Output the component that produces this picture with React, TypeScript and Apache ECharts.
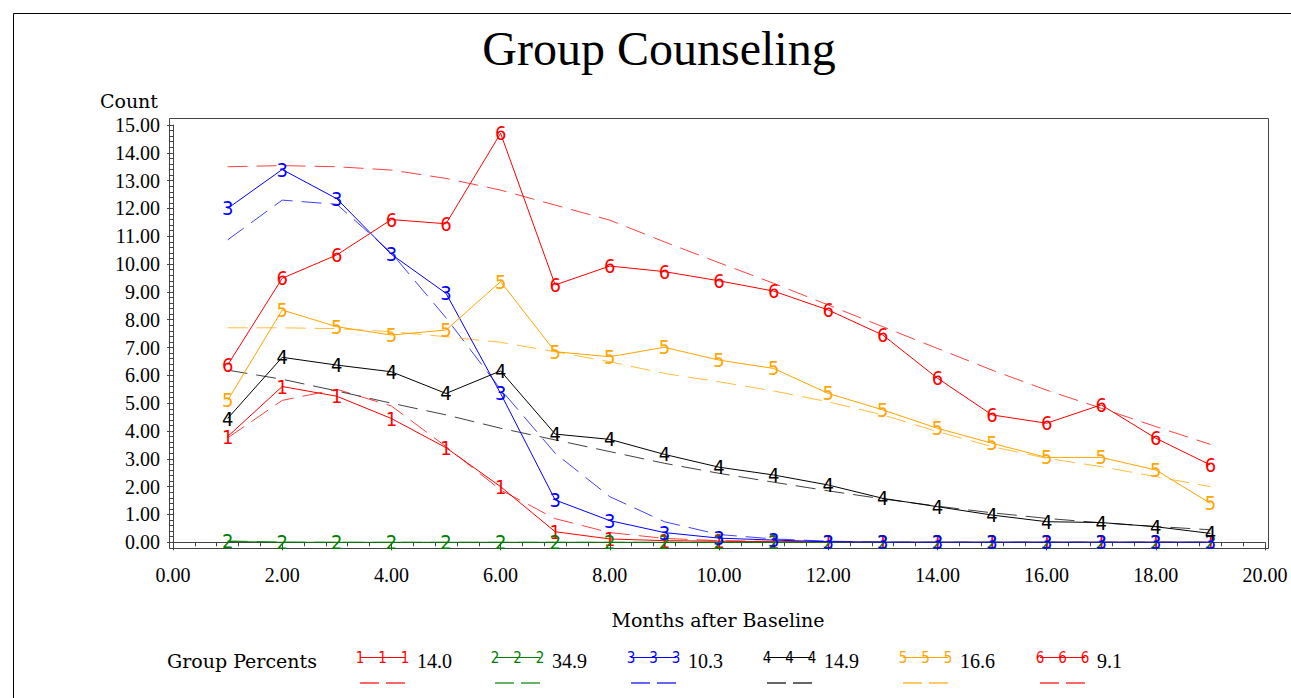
import React, { useEffect, useRef } from "react";
import * as echarts from "echarts";

const months = [1, 2, 3, 4, 5, 6, 7, 8, 9, 10, 11, 12, 13, 14, 15, 16, 17, 18, 19];
const groupSymbols = ["1", "2", "3", "4", "5", "6"];
const groupPercents = ["14.0", "34.9", "10.3", "14.9", "16.6", "9.1"];
const groupColors = ["#ff0000", "#008000", "#0000ff", "#000000", "#ffa500", "#ff0000"];
const xTickLabels = ["0.00", "2.00", "4.00", "6.00", "8.00", "10.00", "12.00", "14.00", "16.00", "18.00", "20.00"];

// observed counts
const obs1 = [3.8, 5.6, 5.25, 4.45, 3.4, 2.0, 0.38, 0.12, 0.06, 0.04, 0.02, 0.01, 0, 0, 0, 0, 0, 0, 0];
const obs2 = [0.03, 0, 0, 0, 0, 0, 0, 0, 0, 0, 0, 0, 0, 0, 0, 0, 0, 0, 0];
const obs3 = [12.0, 13.4, 12.35, 10.35, 8.95, 5.35, 1.52, 0.78, 0.35, 0.15, 0.08, 0.02, 0, 0, 0, 0, 0, 0, 0];
const obs4 = [4.45, 6.65, 6.37, 6.13, 5.35, 6.16, 3.89, 3.7, 3.16, 2.7, 2.42, 2.06, 1.58, 1.28, 0.98, 0.74, 0.71, 0.56, 0.32];
const obs5 = [5.1, 8.35, 7.75, 7.45, 7.63, 9.37, 6.85, 6.67, 7.01, 6.55, 6.25, 5.35, 4.76, 4.1, 3.56, 3.05, 3.05, 2.6, 1.4];
const obs6 = [6.37, 9.49, 10.33, 11.6, 11.45, 14.7, 9.25, 9.93, 9.73, 9.4, 9.03, 8.35, 7.45, 5.9, 4.58, 4.28, 4.94, 3.74, 2.78];

// fitted trajectories
const fit1 = [3.75, 5.1, 5.5, 4.9, 3.44, 1.88, 0.85, 0.35, 0.14, 0.06, 0.03, 0.01, 0, 0, 0, 0, 0, 0, 0];
const fit2 = [0.05, 0.01, 0, 0, 0, 0, 0, 0, 0, 0, 0, 0, 0, 0, 0, 0, 0, 0, 0];
const fit3 = [10.87, 12.3, 12.15, 10.4, 8.07, 5.5, 3.2, 1.64, 0.74, 0.28, 0.12, 0.04, 0.01, 0, 0, 0, 0, 0, 0];
const fit4 = [6.19, 5.86, 5.44, 5.0, 4.58, 4.1, 3.68, 3.26, 2.84, 2.48, 2.16, 1.85, 1.56, 1.3, 1.06, 0.86, 0.7, 0.57, 0.45];
const fit5 = [7.71, 7.71, 7.68, 7.57, 7.39, 7.19, 6.85, 6.49, 6.07, 5.77, 5.44, 5.05, 4.58, 3.98, 3.44, 3.02, 2.72, 2.36, 2.0];
const fit6 = [13.5, 13.54, 13.5, 13.38, 13.08, 12.66, 12.12, 11.58, 10.8, 10.05, 9.31, 8.53, 7.75, 6.97, 6.19, 5.47, 4.82, 4.16, 3.52];

const observed = [obs1, obs2, obs3, obs4, obs5, obs6];
const fitted = [fit1, fit2, fit3, fit4, fit5, fit6];

const SERIF = "'Liberation Serif', 'Times New Roman', serif";
const WORD_SERIF = "'DejaVu Serif', 'Liberation Serif', serif";
const DIGIT_FONT = "'DejaVu Sans Condensed', 'Liberation Sans Narrow', 'Liberation Sans', sans-serif";

function textEl(text: string, x: number, y: number, font: string, align = "left", fill = "#000") {
  return {
    type: "text",
    x,
    y,
    silent: true,
    style: {
      text,
      font,
      fill,
      align,
      textAlign: align,
      verticalAlign: "middle",
      textVerticalAlign: "middle",
    },
  };
}

export default function App() {
  const ref = useRef<HTMLDivElement>(null);

  useEffect(() => {
    document.body.style.margin = "0";
    const chart = echarts.init(ref.current!, null, { renderer: "svg" });

    const series: any[] = [];
    observed.forEach((vals, i) => {
      series.push({
        type: "line",
        name: "obs" + groupSymbols[i],
        data: months.map((m, j) => [m, vals[j]]),
        symbol: "circle",
        symbolSize: 1,
        showSymbol: true,
        showAllSymbol: true,
        itemStyle: { color: "rgba(0,0,0,0)" },
        lineStyle: { color: groupColors[i], width: 1 },
        label: {
          show: true,
          position: "inside",
          formatter: groupSymbols[i],
          color: groupColors[i],
          fontSize: 20,
          fontFamily: DIGIT_FONT,
        },
        emphasis: { disabled: true },
        silent: true,
        z: 3 + i,
      });
    });
    fitted.forEach((vals, i) => {
      series.push({
        type: "line",
        name: "fit" + groupSymbols[i],
        data: months.map((m, j) => [m, vals[j]]),
        symbol: "none",
        lineStyle: { color: groupColors[i], width: 1, type: [20, 9], opacity: 0.75 },
        emphasis: { disabled: true },
        silent: true,
        z: 2,
      });
    });

    const graphic: any[] = [
      {
        type: "rect",
        silent: true,
        shape: { x: 13.5, y: 13.5, width: 1300, height: 720 },
        style: { fill: "none", stroke: "#000", lineWidth: 1 },
      },
      {
        type: "rect",
        silent: true,
        shape: { x: 169.5, y: 118.5, width: 1099, height: 430 },
        style: { fill: "none", stroke: "#444", lineWidth: 1 },
      },
      textEl("Group Counseling", 659, 48, `48px ${SERIF}`, "center"),
      textEl("Count", 158, 101, `19px ${WORD_SERIF}`, "right"),
      textEl("Months after Baseline", 718, 620, `19px ${WORD_SERIF}`, "center"),
      textEl("Group Percents", 167, 661, `19px ${WORD_SERIF}`, "left"),
    ];

    const legendX = [360, 495, 631, 767, 903, 1040];
    legendX.forEach((x0, i) => {
      graphic.push({
        type: "line",
        silent: true,
        shape: { x1: x0, y1: 657.5, x2: x0 + 45, y2: 657.5 },
        style: { stroke: groupColors[i], lineWidth: 1 },
      });
      [0, 22.5, 45].forEach((dx) => {
        graphic.push(textEl(groupSymbols[i], x0 + dx, 658, `15px ${DIGIT_FONT}`, "center", groupColors[i]));
      });
      graphic.push(textEl(groupPercents[i], x0 + 57, 661, `20px ${SERIF}`, "left"));
      graphic.push({
        type: "line",
        silent: true,
        shape: { x1: x0, y1: 683, x2: x0 + 45, y2: 683 },
        style: { stroke: groupColors[i], lineWidth: 2, lineDash: [19, 7], opacity: 0.6 },
      });
    });

    chart.setOption({
      animation: false,
      backgroundColor: "#fff",
      grid: { left: 173, right: 26, top: 125, bottom: 155.7, containLabel: false },
      xAxis: {
        type: "value",
        min: 0,
        max: 20,
        interval: 2,
        offset: 6,
        axisLine: { show: true, lineStyle: { color: "#444", width: 1 } },
        axisTick: { show: true, length: 8, lineStyle: { color: "#444" } },
        minorTick: { show: true, splitNumber: 5, length: 4, lineStyle: { color: "#444" } },
        splitLine: { show: false },
        minorSplitLine: { show: false },
        axisLabel: {
          margin: 17,
          color: "#000",
          fontSize: 20,
          fontFamily: SERIF,
          formatter: (v: number) => xTickLabels[Math.round(v / 2)] ?? v.toFixed(2),
        },
      },
      yAxis: {
        type: "value",
        min: 0,
        max: 15,
        interval: 1,
        offset: 4,
        axisLine: { show: true, lineStyle: { color: "#444", width: 1 } },
        axisTick: { show: true, length: 6, lineStyle: { color: "#444" } },
        minorTick: { show: true, splitNumber: 5, length: 3, lineStyle: { color: "#444" } },
        splitLine: { show: false },
        minorSplitLine: { show: false },
        axisLabel: {
          margin: 9,
          color: "#000",
          fontSize: 20,
          fontFamily: SERIF,
          formatter: (v: number) => v.toFixed(2),
        },
      },
      series,
      graphic,
    });

    return () => chart.dispose();
  }, []);

  return <div ref={ref} style={{ width: 1291, height: 698 }} />;
}
